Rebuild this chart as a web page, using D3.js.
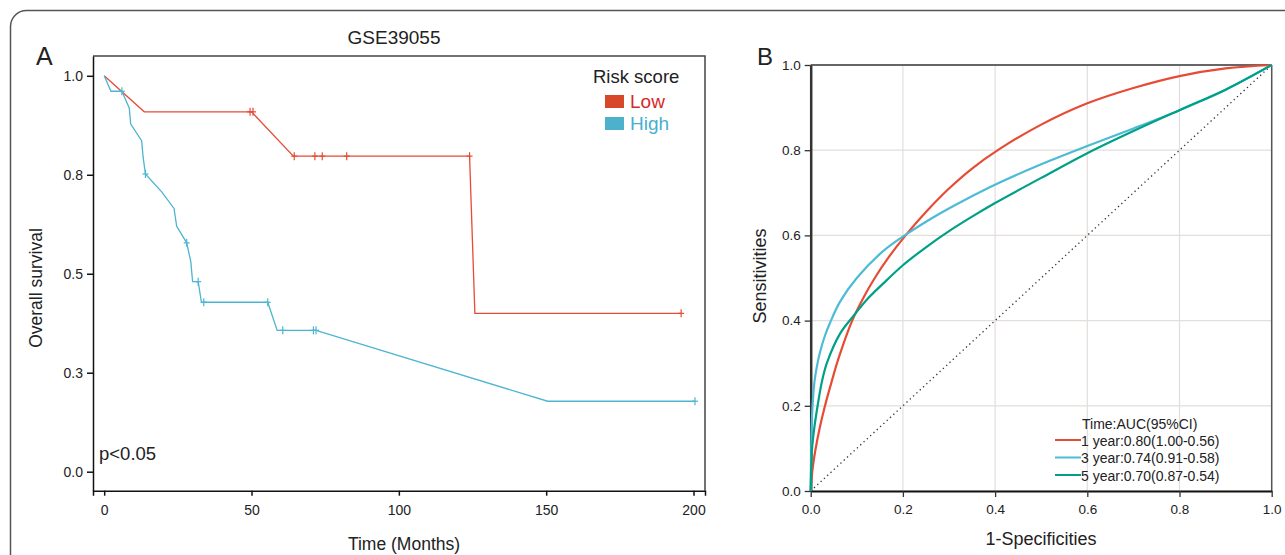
<!DOCTYPE html>
<html>
<head>
<meta charset="utf-8">
<script src="https://cdn.jsdelivr.net/npm/d3@7"></script>
<style>
  body { margin: 0; background: #fff; }
  text { font-family: "Liberation Sans", Arial, sans-serif; }
</style>
</head>
<body>
<div id="chart"></div>
<script>
// ---- data (panel A: Kaplan-Meier) ----
const kmTimeTicks = [0, 50, 100, 150, 200];
const kmSurvTicks = [0, 0.25, 0.5, 0.75, 1];
const kmSurvLabels = ["0.0", "0.3", "0.5", "0.8", "1.0"];
const kmGroups = ["Low", "High"];

const lowCurve = [[0, 1], [13.6, 0.909], [50, 0.909], [64.2, 0.797], [124, 0.797], [125.8, 0.40], [195.8, 0.40]];
const lowCensor = [[49.5, 0.909], [50.5, 0.909], [64.5, 0.797], [71.5, 0.797], [74, 0.797], [82.3, 0.797], [124, 0.797], [195.8, 0.40]];

const highCurve = [[0, 1], [2.3, 0.961], [6, 0.961], [8.5, 0.919], [9, 0.878], [12.7, 0.836], [13.2, 0.795], [14, 0.752],
  [19.5, 0.707], [23.7, 0.665], [24.6, 0.620], [28, 0.578], [29.4, 0.530], [30, 0.480], [31.9, 0.480], [33, 0.428],
  [55.5, 0.428], [58.7, 0.357], [71.9, 0.357], [150.5, 0.178], [200.5, 0.178]];
const highCensor = [[6, 0.961], [14, 0.752], [28, 0.578], [31.9, 0.480], [33.8, 0.428], [55.5, 0.428], [60.6, 0.357],
  [71, 0.357], [71.9, 0.357], [200.5, 0.178]];

// ---- data (panel B: time ROC) ----
const rocTicks = [0, 0.2, 0.4, 0.6, 0.8, 1];
const rocLabels = ["1 year:0.80(1.00-0.56)", "3 year:0.74(0.91-0.58)", "5 year:0.70(0.87-0.54)"];
const roc1 = [[0, 0], [0.002, 0.03], [0.005, 0.06], [0.01, 0.095], [0.02, 0.15], [0.031, 0.2], [0.045, 0.255], [0.06, 0.31],
  [0.09, 0.4], [0.115, 0.455], [0.139, 0.5], [0.17, 0.55], [0.208, 0.603], [0.25, 0.655], [0.3, 0.71], [0.35, 0.757],
  [0.41, 0.803], [0.5, 0.86], [0.6, 0.91], [0.7, 0.946], [0.8, 0.974], [0.9, 0.992], [1, 1]];
const roc3 = [[0, 0], [0.001, 0.08], [0.002, 0.14], [0.004, 0.2], [0.008, 0.255], [0.013, 0.29], [0.02, 0.325], [0.031, 0.365],
  [0.042, 0.395], [0.064, 0.445], [0.1, 0.5], [0.157, 0.563], [0.208, 0.603], [0.27, 0.645], [0.327, 0.679], [0.41, 0.724],
  [0.5, 0.767], [0.6, 0.81], [0.7, 0.851], [0.8, 0.894], [0.9, 0.942], [1, 1]];
const roc5 = [[0, 0], [0.001, 0.05], [0.003, 0.1], [0.008, 0.15], [0.015, 0.2], [0.024, 0.255], [0.035, 0.3], [0.064, 0.37],
  [0.092, 0.41], [0.125, 0.453], [0.165, 0.495], [0.2, 0.53], [0.25, 0.572], [0.3, 0.61], [0.35, 0.644], [0.4, 0.676],
  [0.5, 0.735], [0.6, 0.793], [0.7, 0.845], [0.8, 0.894], [0.9, 0.942], [1, 1]];

const W = 1285, H = 555;
let svg = d3.select("#chart").append("svg")
  .attr("width", W).attr("height", H)
  .style("background", "#fff");

// outer frame
svg.append("rect")
  .attr("x", 10.5).attr("y", 10.5).attr("width", 1400).attr("height", 700).attr("rx", 16)
  .attr("fill", "none").attr("stroke", "#555").attr("stroke-width", 1.5);

// ================= Panel A =================
let kmX = d3.scaleLinear().domain([-3.8, 203.9]).range([93, 705]);
let kmY = d3.scaleLinear().domain([-0.048, 1.05]).range([490.7, 56]);
let colLow = "#e64b35", colHigh = "#4db5d0";

let gA = svg.append("g");

// top / right border
gA.append("path")
  .attr("d", `M${kmX.range()[0]},${kmY.range()[1]}H${kmX.range()[1]}V${kmY.range()[0]}`)
  .attr("fill", "none").attr("stroke", "#444").attr("stroke-width", 1.5);

let axA_y = gA.append("g").attr("transform", `translate(${kmX.range()[0]},0)`)
  .call(d3.axisLeft(kmY).tickValues(kmSurvTicks).tickFormat((d, i) => kmSurvLabels[i]).tickSize(6).tickSizeOuter(0).tickPadding(4));
let axA_x = gA.append("g").attr("transform", `translate(0,${kmY.range()[0]})`)
  .call(d3.axisBottom(kmX).tickValues(kmTimeTicks).tickSize(5).tickSizeOuter(5).tickPadding(9));
[axA_y, axA_x].forEach(a => {
  a.selectAll("path, line").attr("stroke", "#111").attr("stroke-width", 1.5);
  a.selectAll("text").style("font-size", "14px").attr("fill", "#222");
});

let kmLine = d3.line().x(d => kmX(d[0])).y(d => kmY(d[1]));

[[lowCurve, lowCensor, colLow], [highCurve, highCensor, colHigh]].forEach(([curve, cens, col]) => {
  gA.append("path").datum(curve)
    .attr("d", kmLine).attr("fill", "none").attr("stroke", col).attr("stroke-width", 1.3);
  let cg = gA.append("g").attr("stroke", col).attr("stroke-width", 1.2);
  cg.selectAll(".cv").data(cens).enter().append("line")
    .attr("x1", d => kmX(d[0])).attr("x2", d => kmX(d[0]))
    .attr("y1", d => kmY(d[1]) - 4).attr("y2", d => kmY(d[1]) + 4);
  cg.selectAll(".ch").data(cens).enter().append("line")
    .attr("x1", d => kmX(d[0]) - 3).attr("x2", d => kmX(d[0]) + 3)
    .attr("y1", d => kmY(d[1])).attr("y2", d => kmY(d[1]));
});

// titles and labels
svg.append("text").attr("x", 394).attr("y", 44).attr("text-anchor", "middle")
  .style("font-size", "19px").attr("fill", "#222").text("GSE39055");
svg.append("text").attr("x", 36).attr("y", 65)
  .style("font-size", "25px").attr("fill", "#222").text("A");
svg.append("text").attr("transform", "translate(42,288) rotate(-90)").attr("text-anchor", "middle")
  .style("font-size", "17.5px").attr("fill", "#222").text("Overall survival");
svg.append("text").attr("x", 404).attr("y", 550).attr("text-anchor", "middle")
  .style("font-size", "17.5px").attr("fill", "#222").text("Time (Months)");
svg.append("text").attr("x", 99).attr("y", 460)
  .style("font-size", "18.5px").attr("fill", "#222").text("p<0.05");

// legend A
svg.append("text").attr("x", 593).attr("y", 82.5)
  .style("font-size", "18.5px").attr("fill", "#222").text("Risk score");
let legA = svg.append("g").selectAll("g").data(kmGroups).enter().append("g")
  .attr("transform", (d, i) => `translate(605,${95 + i * 22})`);
legA.append("rect").attr("width", 19).attr("height", 13)
  .attr("fill", (d, i) => i === 0 ? "#d9472b" : "#4eb1cc");
legA.append("text").attr("x", 25).attr("y", 12.5)
  .style("font-size", "19px").attr("fill", (d, i) => i === 0 ? "#d42a2a" : "#47b0d0").text(d => d);

// ================= Panel B =================
let rocX = d3.scaleLinear().domain([0, 1]).range([810.7, 1271.7]);
let rocY = d3.scaleLinear().domain([0, 1]).range([491, 65]);
let rocCols = ["#e64b35", "#4dbbd5", "#00a087"];

let gB = svg.append("g");

// grid
gB.selectAll(".gx").data(rocTicks).enter().append("line")
  .attr("x1", d => rocX(d)).attr("x2", d => rocX(d))
  .attr("y1", rocY(0)).attr("y2", rocY(1))
  .attr("stroke", "#e2dfdb").attr("stroke-width", 1.2);
gB.selectAll(".gy").data(rocTicks).enter().append("line")
  .attr("x1", rocX(0)).attr("x2", rocX(1))
  .attr("y1", d => rocY(d)).attr("y2", d => rocY(d))
  .attr("stroke", "#e2dfdb").attr("stroke-width", 1.2);

// top / right border
gB.append("line").attr("x1", rocX(0)).attr("x2", rocX(1)).attr("y1", rocY(1)).attr("y2", rocY(1))
  .attr("stroke", "#666").attr("stroke-width", 2);
gB.append("line").attr("x1", rocX(1)).attr("x2", rocX(1)).attr("y1", rocY(1)).attr("y2", rocY(0))
  .attr("stroke", "#555").attr("stroke-width", 1.5);

// diagonal reference
gB.append("line").attr("x1", rocX(0)).attr("y1", rocY(0)).attr("x2", rocX(1)).attr("y2", rocY(1))
  .attr("stroke", "#333").attr("stroke-width", 1.3).attr("stroke-dasharray", "1.3,3.2");

let axB_y = gB.append("g").attr("transform", `translate(${rocX(0)},0)`)
  .call(d3.axisLeft(rocY).tickValues(rocTicks).tickFormat(d3.format(".1f")).tickSize(6).tickSizeOuter(0).tickPadding(4));
let axB_x = gB.append("g").attr("transform", `translate(0,${rocY(0)})`)
  .call(d3.axisBottom(rocX).tickValues(rocTicks).tickFormat(d3.format(".1f")).tickSize(6).tickSizeOuter(0).tickPadding(7));
axB_y.select(".domain").attr("stroke", "#333").attr("stroke-width", 2.5);
axB_x.select(".domain").attr("stroke", "#111").attr("stroke-width", 2);
[axB_y, axB_x].forEach(a => {
  a.selectAll(".tick line").attr("stroke", "#333").attr("stroke-width", 1.3);
  a.selectAll("text").style("font-size", "13.5px").attr("fill", "#222");
});

let rocLine = d3.line().x(d => rocX(d[0])).y(d => rocY(d[1])).curve(d3.curveCatmullRom.alpha(0.5));
[roc1, roc3, roc5].forEach((c, i) => {
  gB.append("path").datum(c).attr("d", rocLine)
    .attr("fill", "none").attr("stroke", rocCols[i]).attr("stroke-width", 2.2);
});

svg.append("text").attr("x", 757).attr("y", 65)
  .style("font-size", "24px").attr("fill", "#222").text("B");
svg.append("text").attr("transform", "translate(766,276) rotate(-90)").attr("text-anchor", "middle")
  .style("font-size", "18px").attr("fill", "#222").text("Sensitivities");
svg.append("text").attr("x", 1041).attr("y", 545).attr("text-anchor", "middle")
  .style("font-size", "18px").attr("fill", "#222").text("1-Specificities");

// legend B
svg.append("text").attr("x", 1082).attr("y", 429)
  .style("font-size", "14px").attr("fill", "#222").text("Time:AUC(95%CI)");
let legB = svg.append("g").selectAll("g").data(rocLabels).enter().append("g")
  .attr("transform", (d, i) => `translate(1055,${440 + i * 17.5})`);
legB.append("line").attr("x1", 0).attr("x2", 26).attr("y1", 0).attr("y2", 0)
  .attr("stroke", (d, i) => rocCols[i]).attr("stroke-width", 2);
legB.append("text").attr("x", 26).attr("y", 5.5)
  .style("font-size", "14px").attr("fill", "#222").text(d => d);
</script>
</body>
</html>
